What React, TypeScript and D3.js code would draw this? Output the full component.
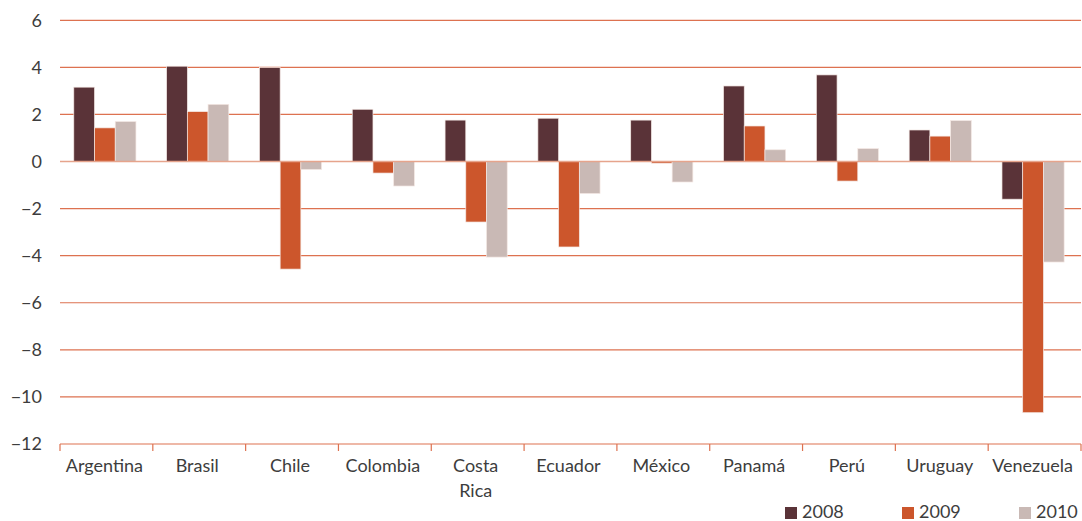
import React from "react";
import * as d3 from "d3";

const categories = ["Argentina", "Brasil", "Chile", "Colombia", "Costa Rica", "Ecuador", "México", "Panamá", "Perú", "Uruguay", "Venezuela"];
const series = ["2008", "2009", "2010"];
const values2008 = [3.16, 4.05, 3.99, 2.22, 1.76, 1.84, 1.76, 3.21, 3.68, 1.34, -1.6];
const values2009 = [1.43, 2.12, -4.57, -0.49, -2.57, -3.63, -0.07, 1.51, -0.83, 1.08, -10.67];
const values2010 = [1.7, 2.43, -0.34, -1.04, -4.06, -1.36, -0.87, 0.5, 0.55, 1.74, -4.27];
const yTicks = [6, 4, 2, 0, -2, -4, -6, -8, -10, -12];
const colors = ["#5a3338", "#cc562c", "#c9b9b5"];

const W = 1082, H = 521;
const left = 60, right = 1081, top = 20.3, bottom = 444;
const FONT = "Lato, 'Open Sans', sans-serif";

export default function App() {
  const x = d3.scaleBand<string>().domain(categories).range([left, right]).paddingInner(0).paddingOuter(0);
  const x1 = d3.scaleBand<string>().domain(series).range([0, x.bandwidth()]).paddingOuter(0.74).paddingInner(0).align(0.45);
  const y = d3.scaleLinear().domain([-12, 6]).range([bottom, top]);
  const all = [values2008, values2009, values2010];
  const boundaries = categories.map((c) => x(c)!).concat([right]);
  return (
    <svg width={W} height={H} style={{ position: "absolute", left: 0, top: 0 }}>
      {yTicks.filter((t) => t !== -12 && t !== 0).map((t) => (
        <line key={t} x1={left} x2={right} y1={y(t)} y2={y(t)} stroke="#dd7250" strokeWidth={1.2} />
      ))}
      {yTicks.map((t) => (
        <text key={"l" + t} x={42} y={y(t)} dy="0.36em" textAnchor="end" fontFamily={FONT} fontSize={18} fill="#3d3d3d">
          {t < 0 ? "\u2212" + Math.abs(t) : t}
        </text>
      ))}
      {categories.map((c, i) =>
        all.map((vals, s) => {
          const v = vals[i];
          const bx = x(c)! + x1(series[s])!;
          return (
            <rect key={c + s} x={bx} width={x1.bandwidth()} y={y(Math.max(0, v))} height={Math.abs(y(v) - y(0))}
              fill={colors[s]} stroke="#f4e8e4" strokeWidth={0.7} />
          );
        })
      )}
      <line x1={left} x2={right} y1={y(0)} y2={y(0)} stroke="#e6a48c" strokeWidth={1.4} />
      <line x1={left} x2={right} y1={y(-12)} y2={y(-12)} stroke="#dd7250" strokeWidth={1.2} />
      {boundaries.map((b, i) => (
        <line key={"t" + i} x1={b} x2={b} y1={y(-12)} y2={y(-12) + 7} stroke="#dd7250" strokeWidth={1.2} />
      ))}
      {categories.map((c) => {
        const parts = c === "Costa Rica" ? ["Costa", "Rica"] : [c];
        const cx = x(c)! + x.bandwidth() / 2 - 2;
        return (
          <text key={"c" + c} x={cx} y={472} textAnchor="middle" fontFamily={FONT} fontSize={18} fill="#3d3d3d">
            {parts.map((p, k) => (
              <tspan key={k} x={cx} dy={k === 0 ? 0 : 25}>{p}</tspan>
            ))}
          </text>
        );
      })}
      {series.map((s, i) => {
        const lx = [785, 902, 1019][i];
        return (
          <g key={"lg" + s}>
            <rect x={lx} y={507} width={12} height={12} fill={colors[i]} />
            <text x={lx + 17} y={518} fontFamily={FONT} fontSize={18} fill="#3d3d3d">{s}</text>
          </g>
        );
      })}
    </svg>
  );
}
